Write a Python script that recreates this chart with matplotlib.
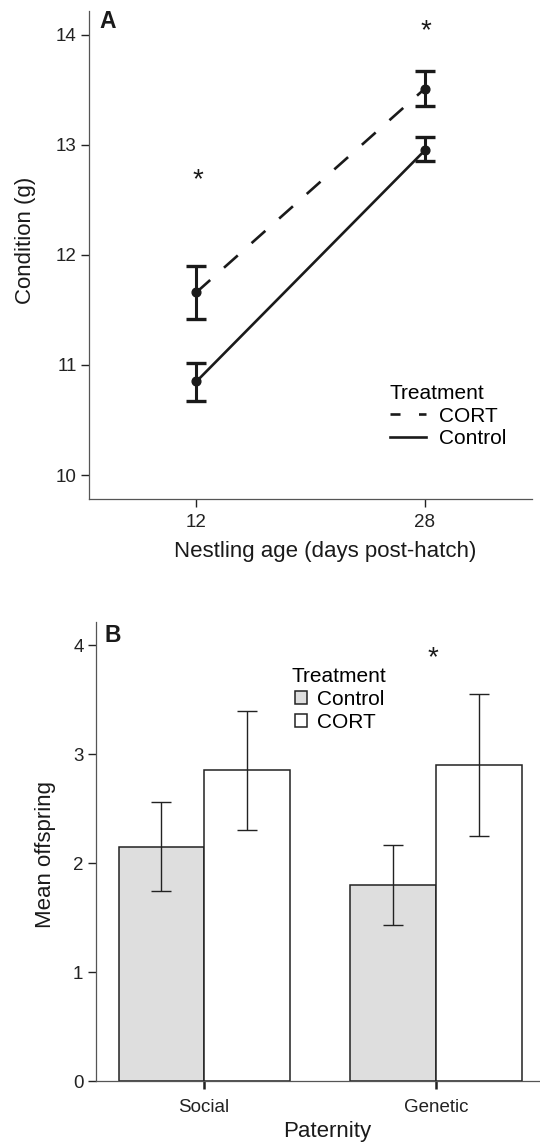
import numpy as np
import matplotlib
matplotlib.use("Agg")
import matplotlib.pyplot as plt
from matplotlib.lines import Line2D
from matplotlib.patches import Patch

plt.rcParams["font.family"] = ["Liberation Sans", "DejaVu Sans"]

# ── Panel A data: nestling condition ─────────────────────────
ages = [12, 28]
cort_mean = [11.66, 13.51]
cort_lo = [11.42, 13.35]
cort_hi = [11.90, 13.67]
ctrl_mean = [10.85, 12.95]
ctrl_lo = [10.67, 12.85]
ctrl_hi = [11.02, 13.07]
star_a_y = [12.68, 14.03]

# ── Panel B data: offspring ──────────────────────────────────
paternity = ["Social", "Genetic"]
b_ctrl = [2.15, 1.80]
b_ctrl_lo = [1.74, 1.43]
b_ctrl_hi = [2.565, 2.17]
b_cort = [2.85, 2.90]
b_cort_lo = [2.305, 2.25]
b_cort_hi = [3.40, 3.55]
star_b = (0.985, 3.88)

W, H = 540, 1144
fig = plt.figure(figsize=(W / 100, H / 100), dpi=100, facecolor="white")


def px(x0, y0, x1, y1):
    # pixel box -> figure fraction [left, bottom, width, height]
    return [x0 / W, 1 - y1 / H, (x1 - x0) / W, (y1 - y0) / H]


def style_axes(ax):
    for s in ("top", "right"):
        ax.spines[s].set_visible(False)
    for s in ("left", "bottom"):
        ax.spines[s].set_color("#555555")
        ax.spines[s].set_linewidth(0.9)
    ax.tick_params(axis="both", length=5.5, width=1.0, color="#222222",
                   labelsize=13.5, labelcolor="#222222", pad=3.5)


ink = "#1a1a1a"
lab_fs = 16
leg_fs = 15

# ── PANEL A ──────────────────────────────────────────────────
ax_a = fig.add_axes(px(89.3, 11, 532, 499.3))
style_axes(ax_a)
ax_a.tick_params(axis="x", pad=5)

ax_a.plot(ages, ctrl_mean, color=ink, lw=1.9, solid_capstyle="butt")
ax_a.plot(ages, cort_mean, color=ink, lw=1.9, dashes=(7, 7))

for m, lo, hi in ((cort_mean, cort_lo, cort_hi), (ctrl_mean, ctrl_lo, ctrl_hi)):
    m = np.array(m)
    yerr = [m - np.array(lo), np.array(hi) - m]
    ax_a.errorbar(ages, m, yerr=yerr, fmt="o", color=ink, ms=6.3,
                  elinewidth=2.2, capsize=7.4, capthick=2.4)

for x, y in zip(ages, star_a_y):
    ax_a.text(x + 0.1, y, "*", fontsize=20, ha="center", va="center", color=ink)

ax_a.set_xlim(4.5, 35.5)
ax_a.set_ylim(9.78, 14.215)
ax_a.set_xticks(ages)
ax_a.set_yticks([10, 11, 12, 13, 14])

fig.text(99 / W, 1 - 21.7 / H, "A", fontsize=16.5, fontweight="bold",
         ha="left", va="center", color=ink)
fig.text(25 / W, 1 - 240 / H, "Condition (g)", fontsize=lab_fs, rotation=90,
         ha="center", va="center", color=ink)
fig.text(325 / W, 1 - 551.7 / H, "Nestling age (days post-hatch)",
         fontsize=lab_fs, ha="center", va="center", color=ink)

handles_a = [Line2D([], [], color=ink, lw=1.9, dashes=(3.8, 7)),
             Line2D([], [], color=ink, lw=1.9)]
leg_a = ax_a.legend(handles_a, ["CORT", "Control"], title="Treatment",
                    loc="upper left", bbox_to_anchor=(390 / W, 1 - 384 / H),
                    bbox_transform=fig.transFigure, frameon=False,
                    fontsize=leg_fs, title_fontsize=leg_fs, borderpad=0,
                    borderaxespad=0, handlelength=1.75, handletextpad=0.6,
                    labelspacing=0.18, alignment="left")

# ── PANEL B ──────────────────────────────────────────────────
ax_b = fig.add_axes(px(96, 622.3, 540, 1081))
style_axes(ax_b)
ax_b.tick_params(axis="x", length=6, width=1.8, pad=7)

x = np.arange(len(paternity))
w = 0.369
ax_b.bar(x - w / 2, b_ctrl, width=w, color="#dedede", edgecolor="#222222",
         linewidth=1.1, label="Control")
ax_b.bar(x + w / 2, b_cort, width=w, color="white", edgecolor="#222222",
         linewidth=1.1, label="CORT")

for xs, m, lo, hi in ((x - w / 2, b_ctrl, b_ctrl_lo, b_ctrl_hi),
                      (x + w / 2, b_cort, b_cort_lo, b_cort_hi)):
    m = np.array(m)
    yerr = [m - np.array(lo), np.array(hi) - m]
    ax_b.errorbar(xs, m, yerr=yerr, fmt="none", ecolor="#222222",
                  elinewidth=1.0, capsize=7.5, capthick=1.0)

ax_b.text(star_b[0], star_b[1], "*", fontsize=20, ha="center", va="center",
          color=ink)

ax_b.set_xlim(-0.466, 1.448)
ax_b.set_ylim(0, 4.21)
ax_b.set_xticks(x)
ax_b.set_xticklabels(paternity)
ax_b.set_yticks([0, 1, 2, 3, 4])

fig.text(104 / W, 1 - 635.7 / H, "B", fontsize=16.5, fontweight="bold",
         ha="left", va="center", color=ink)
fig.text(46 / W, 1 - 855 / H, "Mean offspring", fontsize=lab_fs, rotation=90,
         ha="center", va="center", color=ink)
fig.text(326.7 / W, 1 - 1131 / H, "Paternity", fontsize=lab_fs,
         ha="center", va="center", color=ink)

handles_b = [Patch(facecolor="#dedede", edgecolor="#222222", linewidth=1.1),
             Patch(facecolor="white", edgecolor="#222222", linewidth=1.1)]
leg_b = ax_b.legend(handles_b, ["Control", "CORT"], title="Treatment",
                    loc="upper left", bbox_to_anchor=(292 / W, 1 - 667 / H),
                    bbox_transform=fig.transFigure, frameon=False,
                    fontsize=leg_fs, title_fontsize=leg_fs, borderpad=0,
                    borderaxespad=0, handlelength=0.6, handleheight=0.6,
                    handletextpad=0.45, labelspacing=0.18)

fig.savefig("out.png", dpi=100, facecolor="white")
